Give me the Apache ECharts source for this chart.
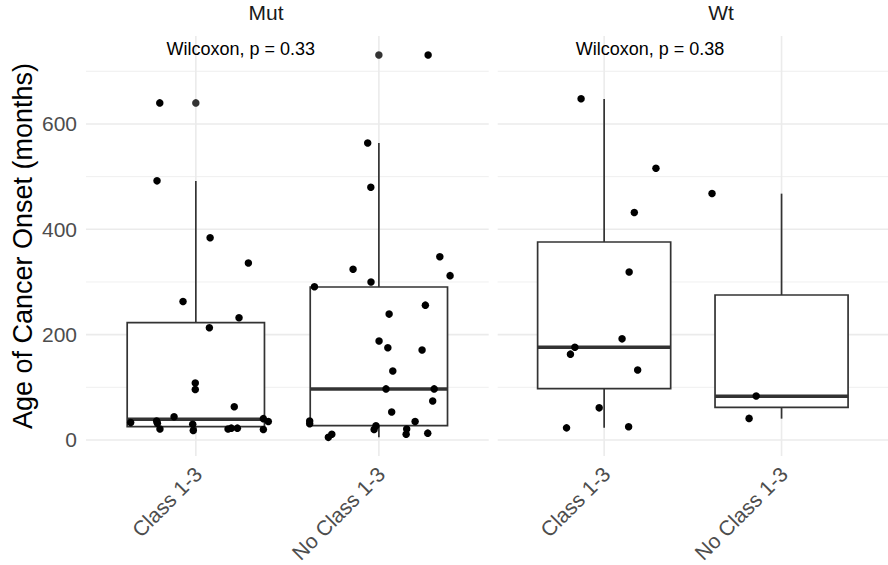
<!DOCTYPE html>
<html><head><meta charset="utf-8">
<script src="https://cdn.jsdelivr.net/npm/echarts@6/dist/echarts.min.js"></script>
<style>html,body{margin:0;padding:0;background:#fff}#c{width:888px;height:565px}</style>
</head><body><div id="c"></div>
<script>
// ---------------- data ----------------
const facets = ['Mut', 'Wt'];
const categories = ['Class 1-3', 'No Class 1-3'];
const pLabels = ['Wilcoxon, p = 0.33', 'Wilcoxon, p = 0.38'];
const yTitle = 'Age of Cancer Onset (months)';
const yMajorTicks = [0, 200, 400, 600];
const yMinorTicks = [100, 300, 500, 700];
const yMin = -30.4, yMax = 767;

// box stats: [categoryIndex, lowerWhisker, Q1, median, Q3, upperWhisker]
const mutBoxes = [[0, 17.7, 25.3, 39.3, 222.7, 491.7], [1, 5.1, 27.2, 96.8, 290.5, 564]];
const wtBoxes  = [[0, 23.4, 97.4, 176, 375.9, 647.4], [1, 40.5, 62, 83, 275.3, 467.7]];
// boxplot outliers: [categoryIndex, value]
const mutOutliers = [[0, 640], [1, 731]];
const wtOutliers = [];
// jittered points: [x position (category index + jitter), value]
const mutPoints = [
  [-0.197, 640], [-0.212, 492], [0.078, 384], [0.287, 336], [-0.070, 263], [0.236, 232],
  [0.074, 213], [-0.003, 108], [-0.003, 96], [0.210, 63], [-0.119, 44], [-0.356, 33],
  [-0.214, 36], [-0.210, 32], [-0.196, 21], [-0.017, 30], [-0.014, 18], [0.176, 21],
  [0.194, 22.5], [0.227, 22.5], [0.369, 40.5], [0.396, 35], [0.369, 20],
  [1.269, 731], [0.939, 564], [0.956, 480], [1.333, 348], [0.859, 324], [1.389, 312],
  [0.957, 300], [0.648, 291], [1.254, 256], [1.056, 239], [1.001, 188], [1.049, 175],
  [1.236, 171], [1.076, 131], [1.039, 97], [1.302, 97], [1.294, 74], [1.070, 53],
  [0.622, 36], [0.622, 31], [1.198, 35], [0.984, 27], [0.974, 20], [1.152, 21],
  [1.149, 11], [1.267, 13], [0.724, 5], [0.743, 11]
];
const wtPoints = [
  [-0.130, 648], [0.292, 516], [0.170, 432], [0.141, 319], [0.101, 192], [-0.165, 176],
  [-0.190, 163], [0.189, 133], [-0.028, 61], [-0.212, 23], [0.138, 25],
  [0.608, 468], [0.857, 83.5], [0.817, 41]
];
const pLabelPos = [-0.16, 742];

// ---------------- layout / style ----------------
const FONT = '"Liberation Sans", Arial, Helvetica, sans-serif';
const panels = [
  {left: 86, top: 36, width: 402.7, height: 420},
  {left: 497.7, top: 36, width: 402.7, height: 420}
];
const stripX = [266, 721];
const boxesByPanel = [mutBoxes, wtBoxes];
const outliersByPanel = [mutOutliers, wtOutliers];
const pointsByPanel = [mutPoints, wtPoints];
const GRID = '#EBEBEB', BOX = '#333333';

const chart = echarts.init(document.getElementById('c'), null, {renderer: 'svg'});

const series = [];
panels.forEach((p, i) => {
  const common = {xAxisIndex: i, yAxisIndex: i, silent: true, animation: false};
  // horizontal grid lines
  [[yMajorTicks, 1.6], [yMinorTicks, 0.8]].forEach(([ticks, w]) => {
    series.push(Object.assign({
      type: 'custom', z: 1, data: ticks.map(v => [0, v]), encode: {x: 0, y: 1},
      renderItem: (params, api) => {
        const cs = params.coordSys;
        const y = api.coord([0, api.value(1)])[1];
        return {type: 'line', shape: {x1: cs.x, y1: y, x2: cs.x + cs.width, y2: y},
                style: {stroke: GRID, lineWidth: w}};
      }
    }, common));
  });
  // vertical grid lines at categories
  series.push(Object.assign({
    type: 'custom', z: 1, data: categories.map((c, k) => [k, 0]), encode: {x: 0, y: 1},
    renderItem: (params, api) => {
      const cs = params.coordSys;
      const x = api.coord([api.value(0), 0])[0];
      return {type: 'line', shape: {x1: x, y1: cs.y, x2: x, y2: cs.y + cs.height},
              style: {stroke: GRID, lineWidth: 1.6}};
    }
  }, common));
  // category labels (rotated 45°)
  series.push(Object.assign({
    type: 'custom', z: 5, data: categories.map((c, k) => [k, 0]), encode: {x: 0, y: 1},
    renderItem: (params, api) => {
      const cs = params.coordSys;
      const x = api.coord([api.value(0), 0])[0];
      return {type: 'text', x: x - 5, y: cs.y + cs.height + 7, rotation: Math.PI / 4,
              style: {text: categories[params.dataIndex], align: 'right', verticalAlign: 'top',
                      fill: '#4D4D4D', fontSize: 21, fontFamily: FONT}};
    }
  }, common));
  // boxes
  series.push(Object.assign({
    type: 'custom', z: 2, data: boxesByPanel[i], encode: {x: 0, y: [1, 2, 3, 4, 5]},
    renderItem: (params, api) => {
      const c = api.value(0);
      const lo = api.coord([c, api.value(1)]);
      const q1 = api.coord([c, api.value(2)]);
      const md = api.coord([c, api.value(3)]);
      const q3 = api.coord([c, api.value(4)]);
      const hi = api.coord([c, api.value(5)]);
      const l = api.coord([c - 0.375, 0])[0];
      const r = api.coord([c + 0.375, 0])[0];
      const ls = {stroke: BOX, lineWidth: 1.7};
      return {type: 'group', children: [
        {type: 'line', shape: {x1: lo[0], y1: lo[1], x2: q1[0], y2: q1[1]}, style: ls},
        {type: 'line', shape: {x1: hi[0], y1: hi[1], x2: q3[0], y2: q3[1]}, style: ls},
        {type: 'rect', shape: {x: l, y: q3[1], width: r - l, height: q1[1] - q3[1]},
         style: {fill: '#ffffff', stroke: BOX, lineWidth: 1.7}},
        {type: 'line', shape: {x1: l, y1: md[1], x2: r, y2: md[1]}, style: {stroke: BOX, lineWidth: 3.4}}
      ]};
    }
  }, common));
  // outliers
  series.push(Object.assign({
    type: 'scatter', z: 3, data: outliersByPanel[i], symbolSize: 7.5,
    itemStyle: {color: BOX, opacity: 1}
  }, common));
  // jittered points
  series.push(Object.assign({
    type: 'scatter', z: 4, data: pointsByPanel[i], symbolSize: 7.5,
    itemStyle: {color: '#000000', opacity: 1}
  }, common));
  // p-value label
  series.push(Object.assign({
    type: 'custom', z: 5, data: [pLabelPos], encode: {x: 0, y: 1},
    renderItem: (params, api) => {
      const pt = api.coord([api.value(0), api.value(1)]);
      return {type: 'text', x: pt[0], y: pt[1],
              style: {text: pLabels[i], align: 'left', verticalAlign: 'middle',
                      fill: '#000000', fontSize: 18, fontFamily: FONT}};
    }
  }, common));
});

const option = {
  backgroundColor: '#ffffff',
  animation: false,
  grid: panels.map(p => Object.assign({containLabel: false}, p)),
  xAxis: panels.map((p, i) => ({
    type: 'value', gridIndex: i, min: -0.6, max: 1.6,
    axisLine: {show: false}, axisTick: {show: false}, axisLabel: {show: false}, splitLine: {show: false}
  })),
  yAxis: panels.map((p, i) => ({
    type: 'value', gridIndex: i, min: yMin, max: yMax,
    axisLine: {show: false}, axisTick: {show: false}, splitLine: {show: false},
    axisLabel: {
      show: i === 0, customValues: yMajorTicks,
      formatter: v => (yMajorTicks.indexOf(v) >= 0 ? String(v) : ''),
      color: '#4D4D4D', fontSize: 21, fontFamily: FONT, margin: 9
    },
    name: i === 0 ? yTitle : '',
    nameLocation: 'middle', nameRotate: 90, nameGap: 50,
    nameTextStyle: {color: '#000000', fontSize: 27, fontFamily: FONT}
  })),
  graphic: panels.map((p, i) => ({
    type: 'text', x: stripX[i], y: 12, silent: true,
    style: {text: facets[i], align: 'center', verticalAlign: 'middle',
            fill: '#1A1A1A', fontSize: 21, fontFamily: FONT}
  })),
  series: series
};
chart.setOption(option);
</script>
</body></html>
